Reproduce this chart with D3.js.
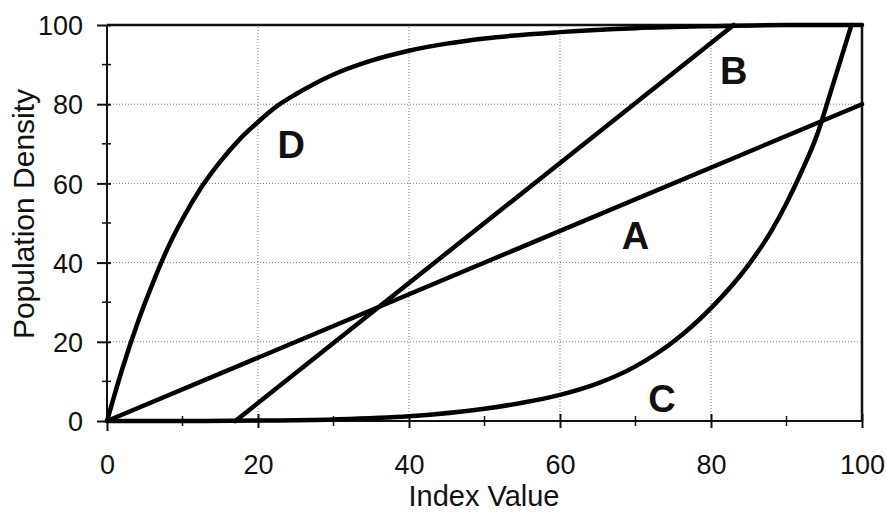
<!DOCTYPE html>
<html>
<head>
<meta charset="utf-8">
<script src="https://cdn.jsdelivr.net/npm/d3@7"></script>
<style>
  body { margin: 0; background: #fff; }
  text { font-family: "Liberation Sans", Arial, sans-serif; fill: #111; }
</style>
</head>
<body>
<svg id="chart" width="886" height="514"></svg>
<script>
// curve data
const lineA = [[0, 0], [100, 80]]
const lineB = [[17, 0], [83, 100]]
const curveC = [[0, 0], [10, 0], [20, 0.1], [30, 0.4], [40, 1.2], [50, 3.1], [55, 4.6], [60, 6.6],
  [65, 9.5], [70, 13.8], [75, 20], [80, 28.5], [85, 39.5], [88, 48], [90, 55], [92, 63],
  [94, 72], [96, 84], [98.6, 100]]
const curveD = [[0, 0], [2, 13], [4, 24.5], [6, 34.5], [8, 43.5], [10, 51], [12.5, 59], [15, 65.5],
  [17.5, 71], [20, 75.5], [22.5, 79.5], [25, 82.5], [30, 87.5], [35, 91], [40, 93.5], [45, 95.3],
  [50, 96.6], [60, 98.2], [70, 99.2], [80, 99.7], [90, 100], [100, 100]]
const curveLabels = [
  { name: 'D', x: 24.4, y: 66.5 },
  { name: 'B', x: 83, y: 85 },
  { name: 'A', x: 70, y: 43.5 },
  { name: 'C', x: 73.5, y: 2.3 }
]
const xTicks = [0, 20, 40, 60, 80, 100]
const yTicks = [0, 20, 40, 60, 80, 100]
const minorTicks = [10, 30, 50, 70, 90]

const svg = d3.select('#chart')
const x = d3.scaleLinear().domain([0, 100]).range([107, 862])
const y = d3.scaleLinear().domain([0, 100]).range([421, 25])

// dotted grid
const grid = svg.append('g').attr('stroke', '#777').attr('stroke-width', 1).attr('stroke-dasharray', '1,2')
grid.selectAll('.gx').data(xTicks.slice(1, -1)).enter().append('line')
  .attr('x1', d => x(d)).attr('x2', d => x(d)).attr('y1', y(0)).attr('y2', y(100))
grid.selectAll('.gy').data(yTicks.slice(1, -1)).enter().append('line')
  .attr('y1', d => y(d)).attr('y2', d => y(d)).attr('x1', x(0)).attr('x2', x(100))

// frame top/right
svg.append('path')
  .attr('d', `M${x(0)},${y(100)}H${x(100)}V${y(0)}`)
  .attr('fill', 'none').attr('stroke', '#111').attr('stroke-width', 2.5)

// axes
const xAxis = svg.append('g').attr('transform', `translate(0,${y(0)})`)
  .call(d3.axisBottom(x).tickValues(xTicks).tickSize(6).tickPadding(32).tickFormat(d3.format('d')))
xAxis.selectAll('.tick line').attr('y1', -7).attr('y2', 7)
xAxis.selectAll('.tick').filter(d => d === 0).select('line').attr('y2', 10)
xAxis.selectAll('line, path').attr('stroke', '#111').attr('stroke-width', 2)
xAxis.select('.domain').attr('d', `M${x(0)},0H${x(100)}`)
xAxis.selectAll('text').attr('font-size', 27).attr('fill', '#111').attr('dy', '0.55em')
xAxis.selectAll('.minor').data(minorTicks).enter().append('line')
  .attr('x1', d => x(d)).attr('x2', d => x(d)).attr('y1', -5).attr('y2', 5)
  .attr('stroke', '#111').attr('stroke-width', 1.5)

const yAxis = svg.append('g').attr('transform', `translate(${x(0)},0)`)
  .call(d3.axisLeft(y).tickValues(yTicks).tickSize(10).tickPadding(14).tickFormat(d3.format('d')))
yAxis.selectAll('.tick line').attr('x1', -10).attr('x2', 4)
yAxis.selectAll('line, path').attr('stroke', '#111').attr('stroke-width', 2)
yAxis.select('.domain').attr('d', `M0,${y(0)}V${y(100)}`)
yAxis.selectAll('text').attr('font-size', 27).attr('fill', '#111').attr('dy', '0.36em')
yAxis.selectAll('.minor').data(minorTicks).enter().append('line')
  .attr('y1', d => y(d)).attr('y2', d => y(d)).attr('x1', -5).attr('x2', 4)
  .attr('stroke', '#111').attr('stroke-width', 1.5)
svg.selectAll('.domain').attr('fill', 'none')

// curves
const line = d3.line().x(d => x(d[0])).y(d => y(d[1])).curve(d3.curveMonotoneX)
svg.append('g').attr('fill', 'none').attr('stroke', '#000').attr('stroke-width', 4.5)
  .attr('stroke-linecap', 'round').attr('stroke-linejoin', 'round')
  .selectAll('path').data([lineA, lineB, curveC, curveD]).enter().append('path')
  .attr('d', line)

// curve letters
svg.selectAll('.lab').data(curveLabels).enter().append('text')
  .attr('x', d => x(d.x)).attr('y', d => y(d.y))
  .attr('text-anchor', 'middle').attr('font-size', 38).attr('font-weight', 'bold')
  .text(d => d.name)

// axis titles
svg.append('text').attr('x', 484).attr('y', 506).attr('text-anchor', 'middle')
  .attr('font-size', 29).text('Index Value')
svg.append('text').attr('transform', 'translate(34,214) rotate(-90)').attr('text-anchor', 'middle')
  .attr('font-size', 30).text('Population Density')
</script>
</body>
</html>
